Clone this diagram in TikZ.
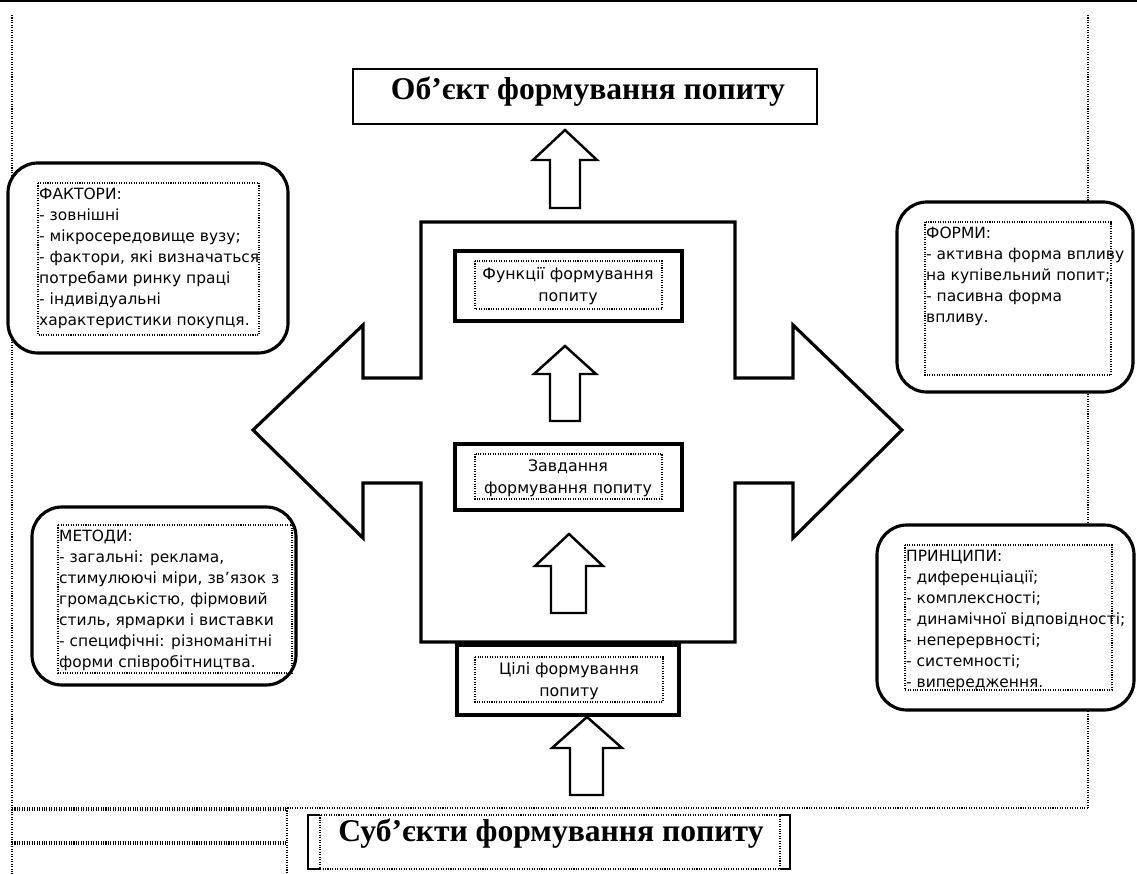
\documentclass[tikz,border=0pt]{standalone}
\usepackage{fontspec}
\setmainfont{Liberation Serif}
\newfontfamily\boxfont{DejaVu Sans}
\tikzset{
  dotline/.style={line width=0.6pt, dash pattern=on 0.6pt off 0.8pt},
  roundbox/.style={line width=1.8pt, rounded corners=0.6cm, fill=white},
  midbox/.style={line width=2pt, fill=white},
  blockarrow/.style={line width=1.4pt, line join=miter, fill=white},
  boxtext/.style={font=\boxfont\fontsize{8.8}{12}\selectfont, align=left, inner xsep=0.5pt, inner ysep=2.5pt, anchor=north west},
  midtext/.style={font=\boxfont\fontsize{9}{12.5}\selectfont, align=center, inner sep=0pt},
  headtext/.style={font=\bfseries\fontsize{18}{20}\selectfont, inner sep=0pt, anchor=base}
}
\begin{document}
\begin{tikzpicture}[x=0.02cm, y=-0.02cm]
\useasboundingbox (0,0) rectangle (1137,874);

% page frame
\fill (0,0) rectangle (1137,2.5);
\draw[dotline] (12,15) -- (12,874);
\draw[dotline] (1088,15) -- (1088,808);
\draw[dotline] (12,808) -- (1088,808);
\draw[dotline] (12,810) -- (287,810);
\draw[dotline] (12,842) -- (287,842);
\draw[dotline] (12,844) -- (287,844);
\draw[dotline] (287,808) -- (287,874);

% object
\draw[line width=1pt] (353,69) rectangle (817,124);
\node[headtext] (object) at (588,100) {Об’єкт формування попиту};
\draw[blockarrow] (550,208) -- (550,160) -- (533,160) -- (565,130) -- (597,160) -- (580,160) -- (580,208) -- cycle;

% cross
\draw[line width=1.8pt, line join=miter] (421,222) -- (735,222) -- (735,378) -- (793,378) -- (793,325)
  -- (902,430) -- (793,538) -- (793,483) -- (735,483) -- (735,642) -- (421,642) -- (421,483)
  -- (363,483) -- (363,538) -- (253,430) -- (363,325) -- (363,378) -- (421,378) -- cycle;

%-------------------------------------
\draw[midbox] (455,251) rectangle (682,321);
\draw[dotline] (475,261) rectangle (662,309);
\node[midtext] (func) at (568,286) {Функції формування\\попиту};

\draw[blockarrow] (550,421) -- (550,374) -- (534,374) -- (565,346) -- (596,374) -- (580,374) -- (580,421) -- cycle;

\draw[midbox] (455,444) rectangle (682,510);
\draw[dotline] (475,454) rectangle (662,499);
\node[midtext] (task) at (568,478) {Завдання\\формування попиту};

\draw[blockarrow] (551,613) -- (551,566) -- (535,566) -- (569,534) -- (603,566) -- (586,566) -- (586,613) -- cycle;

\draw[midbox] (457,645) rectangle (679,715);
\draw[dotline] (475,657) rectangle (663,702);
\node[midtext] (goal) at (569,681) {Цілі формування\\попиту};

\draw[blockarrow] (570,795) -- (570,748) -- (552,748) -- (587,717) -- (622,748) -- (603,748) -- (603,795) -- cycle;

%-------------------------------------
\draw[roundbox] (8,163) rectangle (288,353);
\draw[dotline] (38,183) rectangle (259,335);
\node[boxtext] (factors) at (38,183) {ФАКТОРИ:\\- зовнішні\\- мікросередовище вузу;\\- фактори, які визначаться\\потребами ринку праці\\- індивідуальні\\характеристики покупця.};

\draw[roundbox] (32,507) rectangle (296,685);
\draw[dotline] (58,525) rectangle (292,673);
\node[boxtext] (methods) at (58,525) {МЕТОДИ:\\- загальні: реклама,\\стимулюючі міри, зв’язок з\\громадськістю, фірмовий\\стиль, ярмарки і виставки\\- специфічні: різноманітні\\форми співробітництва.};

\draw[roundbox] (897,202) rectangle (1133,392);
\draw[dotline] (925,222) rectangle (1111,375);
\node[boxtext] (forms) at (925,222) {ФОРМИ:\\- активна форма впливу\\на купівельний попит;\\- пасивна форма\\впливу.};

\draw[roundbox] (877,525) rectangle (1134,710);
\draw[dotline] (905,545) rectangle (1112,690);
\node[boxtext] (principles) at (905,545) {ПРИНЦИПИ:\\- диференціації;\\- комплексності;\\- динамічної відповідності;\\- неперервності;\\- системності;\\- випередження.};

%-------------------------------------
\draw[line width=1pt] (320,815) -- (308,815) -- (308,869) -- (320,869);
\draw[line width=1pt] (780,815) -- (790,815) -- (790,869) -- (780,869);
\draw[dotline] (320,815) rectangle (780,869);
\node[headtext] (subjects) at (551,842) {Суб’єкти формування попиту};

\end{tikzpicture}
\end{document}
